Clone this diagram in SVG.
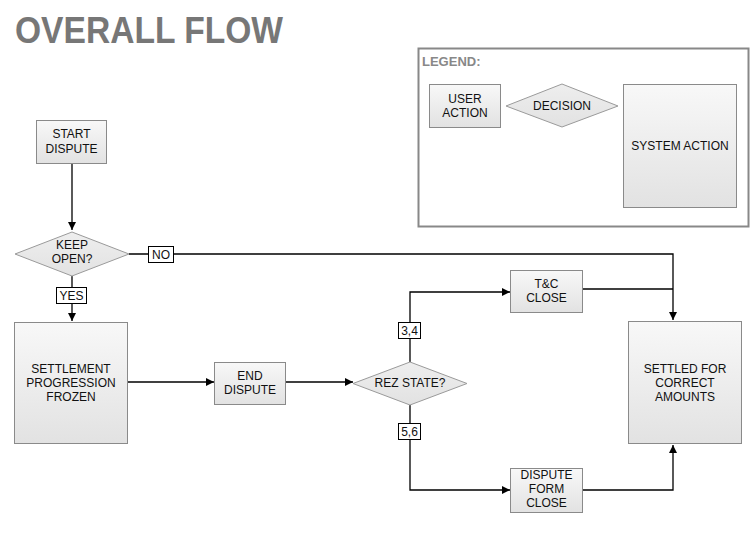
<svg xmlns="http://www.w3.org/2000/svg" width="756" height="552" viewBox="0 0 756 552">
<style>
.box{fill:url(#g);stroke:#8a8a8a;stroke-width:1}
.dia{fill:url(#gd);stroke:#9a9a9a;stroke-width:1}
.t{font-family:"Liberation Sans",Arial,sans-serif;font-size:12px;fill:#111;text-anchor:middle}
.lbl{fill:#fff;stroke:#000;stroke-width:1}
.c{fill:none;stroke:#000;stroke-width:1.3}
</style>
<defs>
<linearGradient id="g" x1="0" y1="0" x2="0" y2="1"><stop offset="0" stop-color="#f8f8f8"/><stop offset="1" stop-color="#e2e2e2"/></linearGradient>
<linearGradient id="gd" x1="0" y1="0" x2="0" y2="1"><stop offset="0" stop-color="#eeeeee"/><stop offset="1" stop-color="#e2e2e2"/></linearGradient>
<marker id="a" viewBox="0 0 10 10" refX="10" refY="5" markerWidth="8" markerHeight="8" markerUnits="userSpaceOnUse" orient="auto"><path d="M0,0L10,5L0,10z" fill="#000"/></marker>
</defs>
<rect width="756" height="552" fill="#fff"/>
<text x="15" y="43" font-family="Liberation Sans,Arial,sans-serif" font-weight="bold" font-size="36" fill="#777" textLength="268" lengthAdjust="spacingAndGlyphs">OVERALL FLOW</text>

<g id="legend">
<rect x="418.5" y="48.5" width="330" height="178" fill="#fff" stroke="#888" stroke-width="2"/>
<text x="422" y="66" font-family="Liberation Sans,Arial,sans-serif" font-weight="bold" font-size="13" fill="#888">LEGEND:</text>
<rect class="box" x="429.5" y="84.5" width="71" height="43"/>
<text class="t" x="465" y="103">USER</text>
<text class="t" x="465" y="117">ACTION</text>
<polygon class="dia" points="506,106 562,84 618,106 562,127"/>
<text class="t" x="562" y="110">DECISION</text>
<rect class="box" x="623.5" y="84.5" width="113" height="123"/>
<text class="t" x="680" y="150">SYSTEM ACTION</text>
</g>

<g id="connectors">
<path class="c" d="M72,163V230" marker-end="url(#a)"/>
<path class="c" d="M129,254H673V320" marker-end="url(#a)"/>
<path class="c" d="M72,276V321" marker-end="url(#a)"/>
<path class="c" d="M128,382H214" marker-end="url(#a)"/>
<path class="c" d="M286,382H353" marker-end="url(#a)"/>
<path class="c" d="M410,362V292H510" marker-end="url(#a)"/>
<path class="c" d="M410,405V490H510" marker-end="url(#a)"/>
<path class="c" d="M583,289H673"/>
<path class="c" d="M583,490H673V445" marker-end="url(#a)"/>
<rect class="lbl" x="148.5" y="246.5" width="25" height="16"/>
<text class="t" x="161" y="259">NO</text>
<rect class="lbl" x="56.5" y="287.5" width="30" height="16"/>
<text class="t" x="71.5" y="300">YES</text>
<rect class="lbl" x="398.5" y="322.5" width="22" height="16"/>
<text class="t" x="409.5" y="335">3,4</text>
<rect class="lbl" x="398.5" y="423.5" width="22" height="16"/>
<text class="t" x="409.5" y="436">5,6</text>
</g>

<g id="start">
<rect class="box" x="36.5" y="120.5" width="70" height="43"/>
<text class="t" x="71.5" y="138">START</text>
<text class="t" x="71.5" y="153">DISPUTE</text>
</g>
<g id="keepopen">
<polygon class="dia" points="15,254 72,232 129,254 72,276"/>
<text class="t" x="72" y="249">KEEP</text>
<text class="t" x="72" y="263">OPEN?</text>
</g>
<g id="frozen">
<rect class="box" x="14.5" y="322.5" width="113" height="121"/>
<text class="t" x="71" y="373">SETTLEMENT</text>
<text class="t" x="71" y="387">PROGRESSION</text>
<text class="t" x="71" y="401">FROZEN</text>
</g>
<g id="enddispute">
<rect class="box" x="214.5" y="362.5" width="71" height="42"/>
<text class="t" x="250" y="380">END</text>
<text class="t" x="250" y="394">DISPUTE</text>
</g>
<g id="rezstate">
<polygon class="dia" points="353,383.5 410,362 467,383.5 410,405"/>
<text class="t" x="410" y="387">REZ STATE?</text>
</g>
<g id="tcclose">
<rect class="box" x="510.5" y="270.5" width="72" height="42"/>
<text class="t" x="546.5" y="288">T&amp;C</text>
<text class="t" x="546.5" y="302">CLOSE</text>
</g>
<g id="formclose">
<rect class="box" x="510.5" y="468.5" width="72" height="44"/>
<text class="t" x="546.5" y="479">DISPUTE</text>
<text class="t" x="546.5" y="493">FORM</text>
<text class="t" x="546.5" y="507">CLOSE</text>
</g>
<g id="settled">
<rect class="box" x="628.5" y="321.5" width="113" height="122"/>
<text class="t" x="685" y="373">SETTLED FOR</text>
<text class="t" x="685" y="387">CORRECT</text>
<text class="t" x="685" y="401">AMOUNTS</text>
</g>
</svg>
